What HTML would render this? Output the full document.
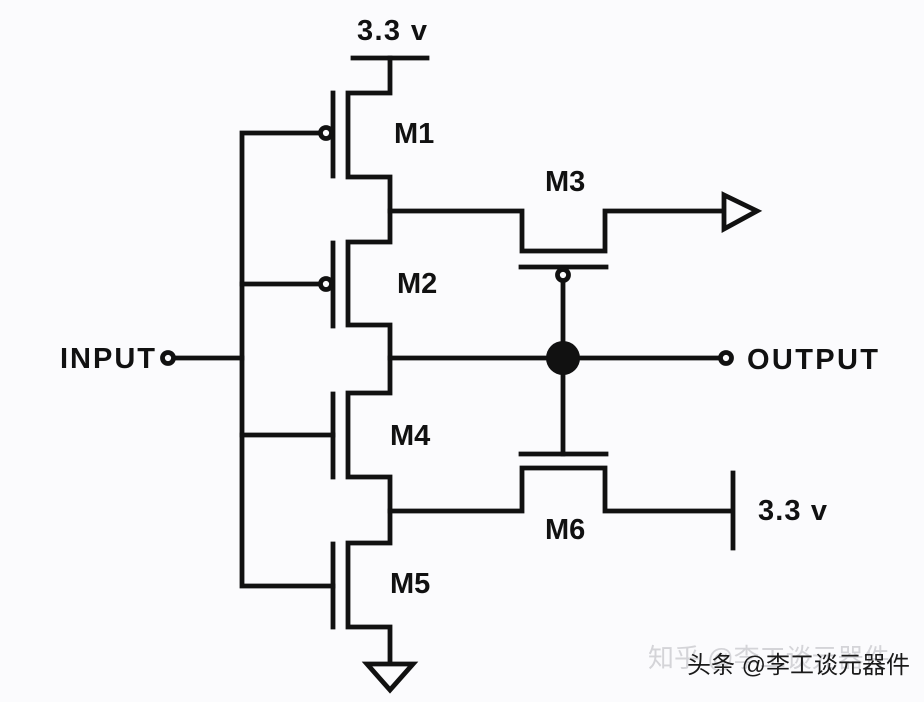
<!DOCTYPE html>
<html><head><meta charset="utf-8"><style>
html,body{margin:0;padding:0;background:#fbfbfd;}
svg{display:block}
text{font-family:"Liberation Sans",Arial,sans-serif;font-weight:bold;font-size:29px;fill:#111;}
</style></head><body>
<svg width="924" height="702" viewBox="0 0 924 702" xmlns="http://www.w3.org/2000/svg">
<rect width="924" height="702" fill="#fbfbfd"/>
<g stroke="#111" stroke-width="4.8" fill="none" stroke-linecap="square" stroke-linejoin="miter">
<line x1="353" y1="58" x2="427" y2="58"/>
<polyline points="390,58 390,93 348,93 348,177 390,177 390,242 348,242 348,325 390,325 390,393 348,393 348,477 390,477 390,543 348,543 348,627 390,627 390,663"/>
<line x1="333" y1="93" x2="333" y2="176"/>
<line x1="333" y1="243" x2="333" y2="326"/>
<line x1="333" y1="394" x2="333" y2="477"/>
<line x1="333" y1="544" x2="333" y2="627"/>
<polyline points="320,133 242,133 242,586 333,586"/>
<line x1="242" y1="284" x2="320" y2="284"/>
<line x1="242" y1="435" x2="333" y2="435"/>
<line x1="174" y1="358" x2="242" y2="358"/>
<polyline points="390,211 522,211 522,251 605,251 605,211 722,211"/>
<line x1="521" y1="267" x2="606" y2="267"/>
<line x1="563" y1="281" x2="563" y2="454"/>
<line x1="390" y1="358" x2="720" y2="358"/>
<polyline points="390,511 522,511 522,468 605,468 605,511 732,511"/>
<line x1="521" y1="454" x2="606" y2="454"/>
<line x1="733" y1="473" x2="733" y2="548"/>
<circle cx="326" cy="133" r="5.5" fill="#fbfbfd"/>
<circle cx="326" cy="284" r="5.5" fill="#fbfbfd"/>
<circle cx="563" cy="275" r="5.5" fill="#fbfbfd"/>
<circle cx="168" cy="358" r="5.5" fill="#fbfbfd"/>
<circle cx="726" cy="358" r="5.5" fill="#fbfbfd"/>
<polygon points="724,195 757,211 724,229"/>
<polygon points="367,664 413,664 390,690"/>
</g>
<circle cx="563" cy="358" r="17" fill="#111"/>
<text x="357" y="40" textLength="70">3.3 v</text>
<text x="394" y="143">M1</text>
<text x="545" y="191">M3</text>
<text x="397" y="293">M2</text>
<text x="60" y="368" textLength="95">INPUT</text>
<text x="747" y="369" textLength="131">OUTPUT</text>
<text x="390" y="445">M4</text>
<text x="758" y="520" textLength="69">3.3 v</text>
<text x="545" y="539">M6</text>
<text x="390" y="593">M5</text>
<text x="648" y="667" style="font-weight:normal;font-size:26px;fill:#d4d4d8;font-family:'Liberation Sans','Noto Sans CJK SC',sans-serif">知乎 @李工谈元器件</text>
<text x="687" y="673" style="font-weight:normal;font-size:24px;fill:#1a1a1a;font-family:'Liberation Sans','Noto Sans CJK SC',sans-serif">头条 @李工谈元器件</text>
</svg>
</body></html>
